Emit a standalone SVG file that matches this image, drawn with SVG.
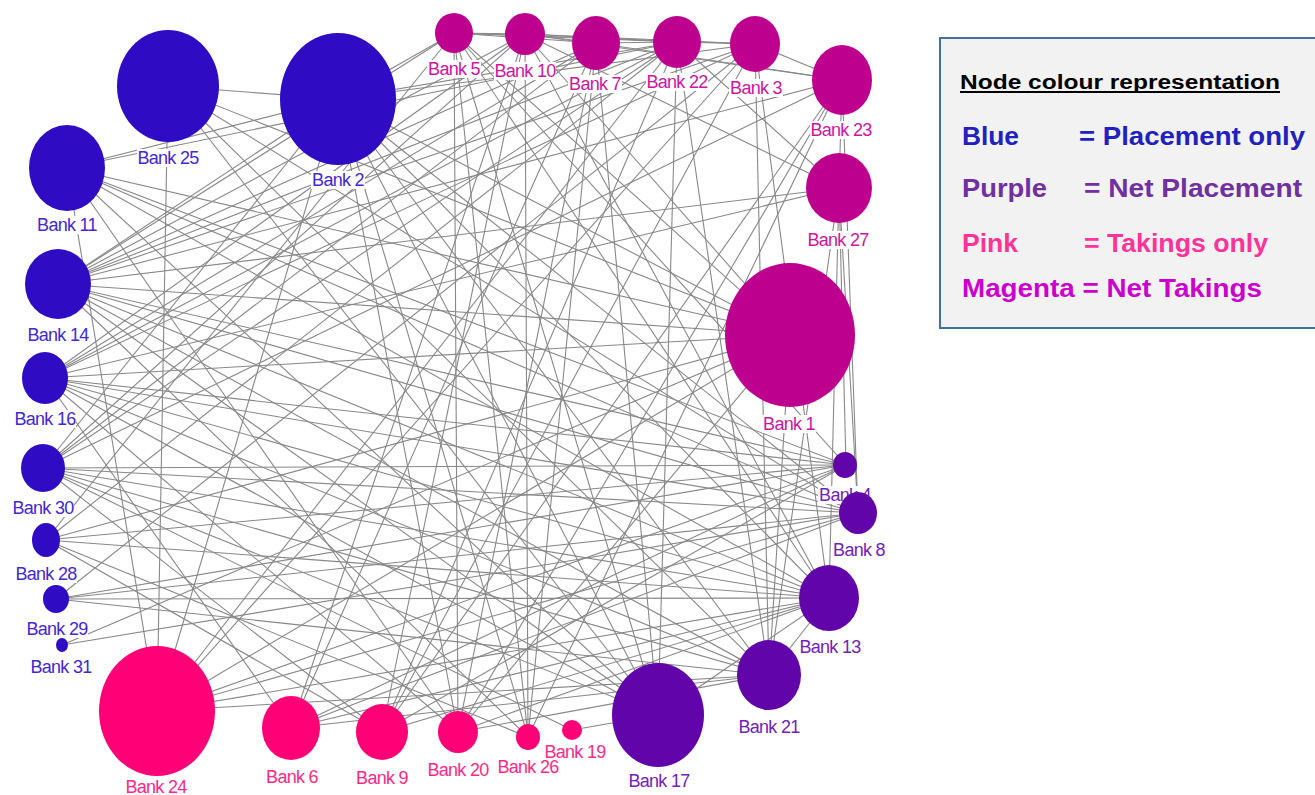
<svg xmlns="http://www.w3.org/2000/svg" width="1315" height="795" viewBox="0 0 1315 795">
<style>
.edges line{stroke:#888888;stroke-width:1.1;fill:none}
.bl{fill:#2F0CC4}.mg{fill:#BE008F}.pk{fill:#FF0077}.pu{fill:#6104AA}
.lb{fill:#ffffff}
.t{font-family:"Liberation Sans",Arial,sans-serif;font-size:18px;letter-spacing:-0.7px;text-anchor:middle}
.tb{fill:#4428D0}.tm{fill:#CC16A0}.tp{fill:#FF2A88}.tu{fill:#7222B8}
.lg{font-family:"Liberation Sans",Arial,sans-serif;font-weight:bold}
</style>
<rect width="1315" height="795" fill="#ffffff"/>
<g id="connectors" class="edges">
<line x1="168" y1="86" x2="338" y2="99"/>
<line x1="338" y1="99" x2="454" y2="33"/>
<line x1="67" y1="168" x2="338" y2="99"/>
<line x1="168" y1="86" x2="157" y2="711"/>
<line x1="168" y1="86" x2="658" y2="715"/>
<line x1="67" y1="168" x2="790" y2="335"/>
<line x1="67" y1="168" x2="846" y2="465"/>
<line x1="67" y1="168" x2="458" y2="732"/>
<line x1="67" y1="168" x2="157" y2="711"/>
<line x1="58" y1="284" x2="454" y2="33"/>
<line x1="58" y1="284" x2="525" y2="34"/>
<line x1="58" y1="284" x2="596" y2="43"/>
<line x1="58" y1="284" x2="677" y2="42"/>
<line x1="58" y1="284" x2="755" y2="44"/>
<line x1="58" y1="284" x2="338" y2="99"/>
<line x1="58" y1="284" x2="790" y2="335"/>
<line x1="58" y1="284" x2="846" y2="465"/>
<line x1="58" y1="284" x2="858" y2="513"/>
<line x1="58" y1="284" x2="829" y2="598"/>
<line x1="58" y1="284" x2="839" y2="188"/>
<line x1="58" y1="284" x2="842" y2="80"/>
<line x1="58" y1="284" x2="769" y2="675"/>
<line x1="58" y1="284" x2="658" y2="715"/>
<line x1="45" y1="378" x2="677" y2="42"/>
<line x1="45" y1="378" x2="755" y2="44"/>
<line x1="45" y1="378" x2="790" y2="335"/>
<line x1="45" y1="378" x2="846" y2="465"/>
<line x1="45" y1="378" x2="858" y2="513"/>
<line x1="45" y1="378" x2="829" y2="598"/>
<line x1="45" y1="378" x2="291" y2="728"/>
<line x1="45" y1="378" x2="458" y2="732"/>
<line x1="45" y1="378" x2="596" y2="43"/>
<line x1="43" y1="468" x2="525" y2="34"/>
<line x1="43" y1="468" x2="596" y2="43"/>
<line x1="43" y1="468" x2="338" y2="99"/>
<line x1="43" y1="468" x2="769" y2="675"/>
<line x1="43" y1="468" x2="829" y2="598"/>
<line x1="43" y1="468" x2="858" y2="513"/>
<line x1="43" y1="468" x2="846" y2="465"/>
<line x1="43" y1="468" x2="572" y2="730"/>
<line x1="46" y1="540" x2="829" y2="598"/>
<line x1="46" y1="540" x2="846" y2="465"/>
<line x1="46" y1="540" x2="454" y2="33"/>
<line x1="46" y1="540" x2="677" y2="42"/>
<line x1="46" y1="540" x2="790" y2="335"/>
<line x1="46" y1="540" x2="528" y2="737"/>
<line x1="56" y1="599" x2="829" y2="598"/>
<line x1="56" y1="599" x2="858" y2="513"/>
<line x1="56" y1="599" x2="846" y2="465"/>
<line x1="56" y1="599" x2="755" y2="44"/>
<line x1="62" y1="645" x2="858" y2="513"/>
<line x1="62" y1="645" x2="790" y2="335"/>
<line x1="157" y1="711" x2="829" y2="598"/>
<line x1="157" y1="711" x2="846" y2="465"/>
<line x1="157" y1="711" x2="338" y2="99"/>
<line x1="157" y1="711" x2="769" y2="675"/>
<line x1="157" y1="711" x2="790" y2="335"/>
<line x1="157" y1="711" x2="677" y2="42"/>
<line x1="291" y1="728" x2="596" y2="43"/>
<line x1="291" y1="728" x2="525" y2="34"/>
<line x1="291" y1="728" x2="829" y2="598"/>
<line x1="291" y1="728" x2="846" y2="465"/>
<line x1="291" y1="728" x2="769" y2="675"/>
<line x1="382" y1="732" x2="677" y2="42"/>
<line x1="382" y1="732" x2="755" y2="44"/>
<line x1="382" y1="732" x2="846" y2="465"/>
<line x1="382" y1="732" x2="43" y2="468"/>
<line x1="458" y1="732" x2="790" y2="335"/>
<line x1="458" y1="732" x2="829" y2="598"/>
<line x1="458" y1="732" x2="338" y2="99"/>
<line x1="458" y1="732" x2="842" y2="80"/>
<line x1="528" y1="737" x2="525" y2="34"/>
<line x1="528" y1="737" x2="338" y2="99"/>
<line x1="528" y1="737" x2="58" y2="284"/>
<line x1="572" y1="730" x2="658" y2="715"/>
<line x1="658" y1="715" x2="677" y2="42"/>
<line x1="658" y1="715" x2="596" y2="43"/>
<line x1="658" y1="715" x2="829" y2="598"/>
<line x1="658" y1="715" x2="45" y2="378"/>
<line x1="658" y1="715" x2="67" y2="168"/>
<line x1="658" y1="715" x2="454" y2="33"/>
<line x1="769" y1="675" x2="755" y2="44"/>
<line x1="769" y1="675" x2="790" y2="335"/>
<line x1="769" y1="675" x2="839" y2="188"/>
<line x1="769" y1="675" x2="829" y2="598"/>
<line x1="769" y1="675" x2="338" y2="99"/>
<line x1="829" y1="598" x2="839" y2="188"/>
<line x1="829" y1="598" x2="454" y2="33"/>
<line x1="829" y1="598" x2="338" y2="99"/>
<line x1="858" y1="513" x2="839" y2="188"/>
<line x1="858" y1="513" x2="842" y2="80"/>
<line x1="858" y1="513" x2="67" y2="168"/>
<line x1="858" y1="513" x2="338" y2="99"/>
<line x1="846" y1="465" x2="839" y2="188"/>
<line x1="846" y1="465" x2="454" y2="33"/>
<line x1="790" y1="335" x2="454" y2="33"/>
<line x1="790" y1="335" x2="525" y2="34"/>
<line x1="790" y1="335" x2="168" y2="86"/>
<line x1="790" y1="335" x2="338" y2="99"/>
<line x1="839" y1="188" x2="525" y2="34"/>
<line x1="839" y1="188" x2="45" y2="378"/>
<line x1="842" y1="80" x2="525" y2="34"/>
<line x1="842" y1="80" x2="596" y2="43"/>
<line x1="842" y1="80" x2="43" y2="468"/>
<line x1="842" y1="80" x2="382" y2="732"/>
<line x1="842" y1="80" x2="528" y2="737"/>
<line x1="755" y1="44" x2="525" y2="34"/>
<line x1="755" y1="44" x2="454" y2="33"/>
<line x1="755" y1="44" x2="338" y2="99"/>
<line x1="755" y1="44" x2="157" y2="711"/>
<line x1="755" y1="44" x2="829" y2="598"/>
<line x1="677" y1="42" x2="454" y2="33"/>
<line x1="677" y1="42" x2="525" y2="34"/>
<line x1="677" y1="42" x2="839" y2="188"/>
<line x1="677" y1="42" x2="338" y2="99"/>
<line x1="677" y1="42" x2="67" y2="168"/>
<line x1="677" y1="42" x2="43" y2="468"/>
<line x1="596" y1="43" x2="454" y2="33"/>
<line x1="596" y1="43" x2="528" y2="737"/>
<line x1="596" y1="43" x2="458" y2="732"/>
<line x1="525" y1="34" x2="382" y2="732"/>
<line x1="525" y1="34" x2="45" y2="378"/>
<line x1="454" y1="33" x2="458" y2="732"/>
<line x1="454" y1="33" x2="528" y2="737"/>
<line x1="677" y1="42" x2="769" y2="675"/>
<line x1="525" y1="34" x2="829" y2="598"/>
<line x1="338" y1="99" x2="658" y2="715"/>
<line x1="168" y1="86" x2="858" y2="513"/>
<line x1="168" y1="86" x2="769" y2="675"/>
<line x1="67" y1="168" x2="829" y2="598"/>
<line x1="45" y1="378" x2="769" y2="675"/>
<line x1="43" y1="468" x2="658" y2="715"/>
<line x1="46" y1="540" x2="382" y2="732"/>
<line x1="56" y1="599" x2="769" y2="675"/>
<line x1="157" y1="711" x2="858" y2="513"/>
<line x1="291" y1="728" x2="858" y2="513"/>
<line x1="382" y1="732" x2="829" y2="598"/>
<line x1="458" y1="732" x2="769" y2="675"/>
<line x1="454" y1="33" x2="525" y2="34"/>
<line x1="525" y1="34" x2="596" y2="43"/>
<line x1="596" y1="43" x2="677" y2="42"/>
<line x1="677" y1="42" x2="755" y2="44"/>
<line x1="755" y1="44" x2="842" y2="80"/>
<line x1="842" y1="80" x2="839" y2="188"/>
</g>
<g id="bank25"><ellipse class="bl" cx="168" cy="86" rx="51" ry="56"/><rect class="lb" x="137" y="149" width="62" height="18"/><text class="t tb" x="168" y="164">Bank 25</text></g>
<g id="bank2"><ellipse class="bl" cx="338" cy="99" rx="58" ry="66"/><rect class="lb" x="311" y="171" width="54" height="18"/><text class="t tb" x="338" y="186">Bank 2</text></g>
<g id="bank11"><ellipse class="bl" cx="67" cy="168" rx="38" ry="43"/><rect class="lb" x="36" y="216" width="62" height="18"/><text class="t tb" x="67" y="231">Bank 11</text></g>
<g id="bank14"><ellipse class="bl" cx="58" cy="284" rx="33" ry="35"/><rect class="lb" x="27" y="326" width="62" height="18"/><text class="t tb" x="58" y="341">Bank 14</text></g>
<g id="bank16"><ellipse class="bl" cx="45" cy="378" rx="23" ry="26"/><rect class="lb" x="14" y="410" width="62" height="18"/><text class="t tb" x="45" y="425">Bank 16</text></g>
<g id="bank30"><ellipse class="bl" cx="43" cy="468" rx="22" ry="24"/><rect class="lb" x="12" y="499" width="62" height="18"/><text class="t tb" x="43" y="514">Bank 30</text></g>
<g id="bank28"><ellipse class="bl" cx="46" cy="540" rx="14" ry="17"/><rect class="lb" x="15" y="565" width="62" height="18"/><text class="t tb" x="46" y="580">Bank 28</text></g>
<g id="bank29"><ellipse class="bl" cx="56" cy="599" rx="13" ry="14"/><rect class="lb" x="26" y="620" width="62" height="18"/><text class="t tb" x="57" y="635">Bank 29</text></g>
<g id="bank31"><ellipse class="bl" cx="62" cy="645" rx="6" ry="7"/><rect class="lb" x="30" y="658" width="62" height="18"/><text class="t tb" x="61" y="673">Bank 31</text></g>
<g id="bank24"><ellipse class="pk" cx="157" cy="711" rx="58" ry="65"/><rect class="lb" x="125" y="778" width="62" height="18"/><text class="t tp" x="156" y="793">Bank 24</text></g>
<g id="bank6"><ellipse class="pk" cx="291" cy="728" rx="29" ry="32"/><rect class="lb" x="265" y="768" width="54" height="18"/><text class="t tp" x="292" y="783">Bank 6</text></g>
<g id="bank9"><ellipse class="pk" cx="382" cy="732" rx="26" ry="28"/><rect class="lb" x="355" y="769" width="54" height="18"/><text class="t tp" x="382" y="784">Bank 9</text></g>
<g id="bank20"><ellipse class="pk" cx="458" cy="732" rx="20" ry="21"/><rect class="lb" x="427" y="761" width="62" height="18"/><text class="t tp" x="458" y="776">Bank 20</text></g>
<g id="bank26"><ellipse class="pk" cx="528" cy="737" rx="12" ry="13"/><rect class="lb" x="497" y="758" width="62" height="18"/><text class="t tp" x="528" y="773">Bank 26</text></g>
<g id="bank19"><ellipse class="pk" cx="572" cy="730" rx="10" ry="10"/><rect class="lb" x="544" y="743" width="62" height="16"/><text class="t tp" x="575" y="758">Bank 19</text></g>
<g id="bank17"><ellipse class="pu" cx="658" cy="715" rx="46" ry="52"/><rect class="lb" x="628" y="772" width="62" height="18"/><text class="t tu" x="659" y="787">Bank 17</text></g>
<g id="bank21"><ellipse class="pu" cx="769" cy="675" rx="32" ry="35"/><rect class="lb" x="738" y="718" width="62" height="18"/><text class="t tu" x="769" y="733">Bank 21</text></g>
<g id="bank13"><ellipse class="pu" cx="829" cy="598" rx="30" ry="33"/><rect class="lb" x="799" y="638" width="62" height="18"/><text class="t tu" x="830" y="653">Bank 13</text></g>
<g id="bank4"><ellipse class="pu" cx="845" cy="465" rx="12" ry="13"/><rect class="lb" x="818" y="486" width="54" height="18"/><text class="t tu" x="845" y="501">Bank 4</text></g>
<g id="bank8"><ellipse class="pu" cx="858" cy="513" rx="19" ry="21"/><rect class="lb" x="832" y="541" width="54" height="18"/><text class="t tu" x="859" y="556">Bank 8</text></g>
<g id="bank1"><ellipse class="mg" cx="790" cy="335" rx="65" ry="72"/><rect class="lb" x="762" y="415" width="54" height="18"/><text class="t tm" x="789" y="430">Bank 1</text></g>
<g id="bank27"><ellipse class="mg" cx="839" cy="188" rx="33" ry="35"/><rect class="lb" x="807" y="231" width="62" height="18"/><text class="t tm" x="838" y="246">Bank 27</text></g>
<g id="bank23"><ellipse class="mg" cx="842" cy="80" rx="30" ry="35"/><rect class="lb" x="810" y="121" width="62" height="18"/><text class="t tm" x="841" y="136">Bank 23</text></g>
<g id="bank3"><ellipse class="mg" cx="755" cy="44" rx="25" ry="28"/><rect class="lb" x="729" y="79" width="54" height="18"/><text class="t tm" x="756" y="94">Bank 3</text></g>
<g id="bank22"><ellipse class="mg" cx="677" cy="42" rx="24" ry="26"/><rect class="lb" x="646" y="73" width="62" height="18"/><text class="t tm" x="677" y="88">Bank 22</text></g>
<g id="bank7"><ellipse class="mg" cx="596" cy="43" rx="24" ry="27"/><rect class="lb" x="568" y="75" width="54" height="18"/><text class="t tm" x="595" y="90">Bank 7</text></g>
<g id="bank10"><ellipse class="mg" cx="525" cy="34" rx="20" ry="21"/><rect class="lb" x="494" y="62" width="62" height="18"/><text class="t tm" x="525" y="77">Bank 10</text></g>
<g id="bank5"><ellipse class="mg" cx="454" cy="33" rx="19" ry="20"/><rect class="lb" x="427" y="60" width="54" height="18"/><text class="t tm" x="454" y="75">Bank 5</text></g>
<g id="legend">
<rect x="940" y="38" width="385" height="290" fill="#F2F2F2" stroke="#41719C" stroke-width="2"/>
<text class="lg" x="960" y="89" font-size="20" fill="#000000" textLength="320" lengthAdjust="spacingAndGlyphs">Node colour representation</text>
<rect x="960" y="91" width="320" height="2" fill="#000000"/>
<text class="lg" x="962" y="145" font-size="25" fill="#2121C0" textLength="57" lengthAdjust="spacingAndGlyphs">Blue</text>
<text class="lg" x="1079" y="145" font-size="25" fill="#2121C0" textLength="226" lengthAdjust="spacingAndGlyphs">= Placement only</text>
<text class="lg" x="962" y="197" font-size="25" fill="#7030A0" textLength="85" lengthAdjust="spacingAndGlyphs">Purple</text>
<text class="lg" x="1084" y="197" font-size="25" fill="#7030A0" textLength="218" lengthAdjust="spacingAndGlyphs">= Net Placement</text>
<text class="lg" x="962" y="252" font-size="25" fill="#FF3399" textLength="56" lengthAdjust="spacingAndGlyphs">Pink</text>
<text class="lg" x="1084" y="252" font-size="25" fill="#FF3399" textLength="184" lengthAdjust="spacingAndGlyphs">= Takings only</text>
<text class="lg" x="962" y="297" font-size="25" fill="#CC00CC" textLength="300" lengthAdjust="spacingAndGlyphs">Magenta = Net Takings</text>
</g>
</svg>
